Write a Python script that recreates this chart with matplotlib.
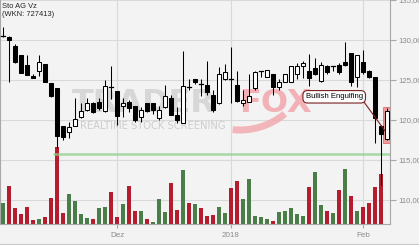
import matplotlib
matplotlib.use("Agg")
import matplotlib.pyplot as plt
from matplotlib.patches import Rectangle, Arc
from matplotlib.lines import Line2D
import numpy as np
import pandas as pd

title = "Sto AG Vz"
subtitle = "(WKN: 727413)"

opens = [130.4, 130.4, 129.25, 128.1, 126.9, 125.5, 126.1, 127.0, 124.6, 124.0,
         119.25, 118.5, 119.3, 120.4, 121.3, 122.1, 122.3, 121.1, 124.0, 123.6,
         121.75, 122.2, 121.75, 120.4, 122.1, 122.1, 120.3, 121.6, 122.8, 120.6,
         119.6, 124.2, 125.1, 124.6, 124.4, 123.1, 122.1, 125.1, 125.2, 124.4,
         122.1, 122.3, 124.0, 126.05, 125.4, 125.8, 124.1, 124.8, 124.8, 125.75,
         126.75, 126.1, 126.5, 124.9, 126.8, 126.65, 126.9, 127.25, 128.4, 125.4,
         127.2, 126.1, 125.4, 119.2, 117.6]
highs = [131.6, 130.5, 129.5, 128.1, 128.1, 125.8, 128.1, 127.0, 124.6, 124.0,
         119.25, 119.8, 122.7, 122.1, 122.7, 122.3, 122.7, 125.0, 126.7, 123.6,
         122.7, 122.5, 121.75, 121.6, 122.1, 122.1, 121.7, 124.4, 123.1, 121.6,
         128.6, 125.1, 125.1, 125.1, 127.4, 123.75, 126.6, 127.0, 129.1, 126.1,
         123.75, 125.8, 126.1, 126.15, 126.2, 125.8, 125.1, 125.8, 126.75, 127.1,
         127.4, 128.3, 127.8, 127.2, 126.9, 126.75, 127.1, 129.75, 128.4, 128.1,
         128.75, 126.3, 125.4, 119.4, 121.5]
lows = [130.4, 124.75, 127.1, 125.9, 125.6, 125.2, 125.5, 124.7, 122.9, 116.5,
        117.5, 117.8, 119.3, 120.2, 121.1, 120.9, 121.3, 121.0, 122.6, 119.4,
        120.4, 121.0, 119.8, 119.8, 121.0, 120.7, 120.0, 121.5, 120.6, 119.6,
        119.6, 123.7, 124.5, 123.0, 123.1, 121.0, 122.0, 125.0, 122.1, 122.3,
        121.75, 122.2, 123.75, 125.4, 125.4, 123.1, 123.75, 124.7, 124.7, 125.1,
        125.2, 124.2, 125.6, 124.8, 125.7, 126.1, 125.8, 126.7, 124.2, 124.1,
        125.8, 125.2, 117.1, 111.9, 117.5]
closes = [130.45, 130.0, 127.3, 125.9, 125.6, 125.2, 127.3, 124.7, 123.0, 118.0,
          117.9, 119.1, 120.1, 121.1, 122.1, 121.0, 121.5, 124.25, 124.1, 120.5,
          122.1, 121.5, 120.0, 121.3, 121.1, 121.2, 121.3, 123.0, 120.6, 120.0,
          124.25, 124.15, 124.8, 124.55, 123.5, 121.25, 125.75, 126.0, 125.15, 122.4,
          122.5, 123.0, 126.05, 126.12, 126.2, 124.1, 124.7, 125.75, 126.75, 126.8,
          127.1, 125.3, 125.7, 126.9, 126.0, 126.7, 126.0, 126.85, 124.8, 128.1,
          126.0, 125.4, 120.3, 118.3, 121.1]
volumes = [2130, 3800, 1600, 1000, 1700, 400, 500, 700, 2600, 7730,
           1130, 3000, 2300, 1000, 600, 500, 1600, 1700, 3200, 700,
           2000, 3800, 1300, 1300, 500, 200, 2500, 1230, 4100, 1400,
           5400, 2100, 2030, 1600, 800, 900, 1700, 1100, 3600, 4300,
           2500, 4500, 800, 700, 500, 300, 1200, 1300, 1600, 1000,
           800, 3700, 5200, 1900, 1300, 1100, 3400, 5500, 2800, 1300,
           1700, 2100, 3700, 5000]

support_level = 115.8
support_start = 8.4
pattern_label = "Bullish Engulfing"
pattern_low, pattern_high = 117.15, 121.6

dates = pd.bdate_range("2017-11-06", "2018-02-07")
dates = dates[~dates.isin(pd.to_datetime(["2017-12-25", "2017-12-26", "2018-01-01"]))]
month_names = {12: "Dez", 1: "2018", 2: "Feb"}
ytick_vals = [110, 115, 120, 125, 130, 135]

UP_VOL = "#4a7d48"
DOWN_VOL = "#b51d2e"
GRID = "#d9d9d9"
AXC = "#a8a8a8"
TXT = "#8c8c8c"
PINK = "#f2aab0"

W, H = 419, 245
fig = plt.figure(figsize=(W / 100, H / 100), dpi=100, facecolor="#f3f3f3")
ax = fig.add_axes([0 / W, 21 / H, 390 / W, 224 / H])
n = len(closes)
x = np.arange(n)
ax.set_xlim(-0.5, n - 0.5)
ax.set_ylim(107, 135)

# volume axis (behind price axis)
axv = ax.twinx()
axv.set_ylim(0, 22400)
axv.set_axis_off()
axv.patch.set_visible(True)
axv.patch.set_facecolor("white")
ax.set_zorder(axv.get_zorder() + 1)
ax.patch.set_visible(False)

# grid (drawn on volume axis so bars cover it)
tick_pos, tick_lab = [], []
for i in range(1, n):
    if dates[i].month != dates[i - 1].month:
        tick_pos.append(i)
        tick_lab.append(month_names[dates[i].month])
for v in ytick_vals:
    axv.plot([0, 1], [v, v], transform=ax.get_yaxis_transform(), color=GRID, lw=0.8, zorder=0)
for p in tick_pos:
    axv.plot([p, p], [0, 1], transform=ax.get_xaxis_transform(), color=GRID, lw=0.8, zorder=0)

# watermark
td = ax.transData
axv.text(11.5, 121.0, "TRADER", fontsize=23, fontweight="bold", family="DejaVu Sans",
         color="#d2d2d2", alpha=0.85, ha="left", va="baseline", zorder=1, transform=td)
axv.text(39.4, 121.0, "FOX", fontsize=23, fontweight="bold", family="DejaVu Sans",
         color=PINK, alpha=0.9, ha="left", va="baseline", zorder=1, transform=td)
axv.add_patch(Arc((39.5, 127.5), 23.3, 17.5, theta1=262, theta2=318, transform=td,
                  color=PINK, lw=5, alpha=0.85, zorder=1))
axv.text(12.8, 119.25, "REALTIME STOCK SCREENING", fontsize=7.2, family="DejaVu Sans",
         color="#cdcdcd", ha="left", va="center", zorder=1, transform=td)

vcol = [UP_VOL] + [UP_VOL if closes[i] > closes[i - 1] else DOWN_VOL for i in range(1, len(volumes))]
axv.bar(x[:len(volumes)], volumes, width=0.72, color=vcol, zorder=2)

# support line
ax.plot([support_start, n - 0.5], [support_level, support_level], color="#8fce8a",
        lw=1.8, alpha=0.75, zorder=2, solid_capstyle="butt")

# pattern highlight
ax.add_patch(Rectangle((n - 1 - 0.62, pattern_low), 1.24, pattern_high - pattern_low,
                       facecolor="#f08c8c", edgecolor="#e25a5a", lw=0.6, alpha=0.85, zorder=3))

# candles
bw = 0.7
for i in range(n):
    o, h, l, c = opens[i], highs[i], lows[i], closes[i]
    ax.plot([i, i], [l, h], color="black", lw=0.75, zorder=4, solid_capstyle="butt")
    lo, hi = min(o, c), max(o, c)
    if hi - lo < 0.12:
        ax.plot([i - bw / 2, i + bw / 2], [c, c], color="black", lw=0.9, zorder=5)
    else:
        fc = "white" if c > o else "black"
        ax.add_patch(Rectangle((i - bw / 2, lo), bw, hi - lo, facecolor=fc,
                               edgecolor="black", lw=0.75, zorder=5))

# annotation
ax.annotate(pattern_label, xy=(63.7, 118.6), xytext=(55.2, 122.9),
            fontsize=5.6, family="Liberation Sans", color="black", ha="center", va="center",
            bbox=dict(boxstyle="round,pad=0.35,rounding_size=0.6", fc="white", ec="#7b1f1f", lw=0.8),
            arrowprops=dict(arrowstyle="-", color="#7b1f1f", lw=0.8, relpos=(1.0, 0.0),
                            shrinkA=0, shrinkB=0),
            zorder=6)

# axes styling
ax.spines["top"].set_visible(False)
for s in ["left", "right", "bottom"]:
    ax.spines[s].set_color(AXC)
    ax.spines[s].set_linewidth(0.8)
ax.yaxis.tick_right()
ax.set_yticks(ytick_vals)
ax.set_yticklabels([f"{v:.2f}".replace(".", ",") for v in ytick_vals])
ax.tick_params(axis="y", length=4, width=0.8, color=AXC, labelcolor=TXT, labelsize=5.6, pad=2)
ax.set_xticks(tick_pos)
ax.set_xticklabels(tick_lab)
ax.tick_params(axis="x", length=3, width=0.8, color=AXC, labelcolor=TXT, labelsize=5.8, pad=3)
for lab in ax.get_xticklabels() + ax.get_yticklabels():
    lab.set_family("Liberation Sans")

fig.text(2 / W, 1 - 6 / H, title, fontsize=5.4, family="Liberation Sans", color="#222222",
         ha="left", va="center")
fig.text(2 / W, 1 - 15 / H, subtitle, fontsize=5.4, family="Liberation Sans", color="#222222",
         ha="left", va="center")
fig.add_artist(Line2D([0, 1], [0.6 / H, 0.6 / H], color="#c8c8c8", lw=0.8))

fig.savefig("out.png", dpi=100, facecolor=fig.get_facecolor())
